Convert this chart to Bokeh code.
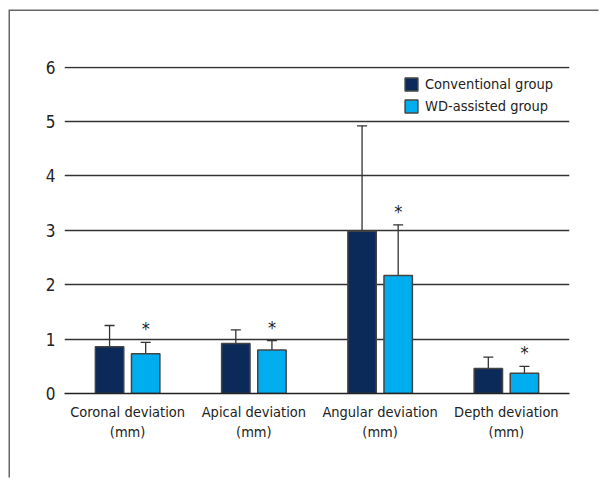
from bokeh.plotting import figure
from bokeh.models import (ColumnDataSource, FactorRange, Legend, LegendItem, CategoricalAxis,
                          Range1d, CustomJSTickFormatter)
from bokeh.transform import dodge
from bokeh.core.properties import value
from bokeh.embed import file_html
from bokeh.resources import INLINE

categories = ["Coronal deviation", "Apical deviation", "Angular deviation", "Depth deviation"]
unit_label = "(mm)"
conv_means = [0.86, 0.92, 2.98, 0.46]
conv_sd = [0.39, 0.25, 1.94, 0.21]
wd_means = [0.73, 0.80, 2.17, 0.37]
wd_sd = [0.21, 0.17, 0.93, 0.13]
series_names = ["Conventional group", "WD-assisted group"]
y_ticks = [0, 1, 2, 3, 4, 5, 6]

FONT = "'DejaVu Sans Condensed', Roboto"
TXT = "#222222"
conv_color = "#0b2a5a"
wd_color = "#00aeef"

src = ColumnDataSource(dict(
    cat=categories,
    conv=conv_means,
    conv_up=[m + s for m, s in zip(conv_means, conv_sd)],
    wd=wd_means,
    wd_up=[m + s for m, s in zip(wd_means, wd_sd)],
    star=["*"] * len(categories),
))

p = figure(x_range=FactorRange(*categories), y_range=Range1d(0, 6.01),
           width=590, height=468, output_backend="svg", toolbar_location=None,
           min_border_left=54, min_border_right=31, min_border_top=55, min_border_bottom=86,
           styles={"margin-left": "10px", "margin-top": "11px",
                   "box-shadow": "-1.5px -1.5px 0px 0px #666666"})
p.outline_line_color = None
p.background_fill_color = "white"
p.border_fill_color = "white"

off = 0.143
w = 0.225

# error bars (upward only)
p.segment(x0=dodge("cat", -off, range=p.x_range), y0="conv", x1=dodge("cat", -off, range=p.x_range), y1="conv_up",
          source=src, line_color="#333333", line_width=1.3)
p.segment(x0=dodge("cat", off, range=p.x_range), y0="wd", x1=dodge("cat", off, range=p.x_range), y1="wd_up",
          source=src, line_color="#333333", line_width=1.3)
p.rect(x=dodge("cat", -off, range=p.x_range), y="conv_up", width=10, height=1.3, width_units="screen",
       height_units="screen", source=src, fill_color="#333333", line_color=None)
p.rect(x=dodge("cat", off, range=p.x_range), y="wd_up", width=10, height=1.3, width_units="screen",
       height_units="screen", source=src, fill_color="#333333", line_color=None)

r1 = p.vbar(x=dodge("cat", -off, range=p.x_range), top="conv", width=w, source=src,
            fill_color=conv_color, line_color="#444444", line_width=1.5)
r2 = p.vbar(x=dodge("cat", off, range=p.x_range), top="wd", width=w, source=src,
            fill_color=wd_color, line_color="#444444", line_width=1.5)

p.text(x=dodge("cat", off, range=p.x_range), y="wd_up", text="star", source=src,
       text_font=value(FONT), text_font_size="18px", text_color=TXT,
       text_align="center", text_baseline="bottom", y_offset=-3)

# axes
p.yaxis.ticker = y_ticks
p.yaxis.axis_line_color = None
p.yaxis.major_tick_line_color = None
p.yaxis.minor_tick_line_color = None
p.yaxis.major_label_text_font = FONT
p.yaxis.major_label_text_font_size = "17px"
p.yaxis.major_label_text_color = TXT
p.yaxis.major_label_standoff = 3

p.xaxis.axis_line_color = "#222222"
p.xaxis.axis_line_width = 1.5
p.xaxis.major_tick_line_color = None
p.xaxis.minor_tick_line_color = None
p.xaxis.major_label_text_font = FONT
p.xaxis.major_label_text_font_size = "14.5px"
p.xaxis.major_label_text_color = TXT
p.xaxis.major_label_standoff = 4

unit_axis = CategoricalAxis(formatter=CustomJSTickFormatter(args=dict(u=unit_label), code="return u;"))
unit_axis.axis_line_color = None
unit_axis.major_tick_line_color = None
unit_axis.minor_tick_line_color = None
unit_axis.major_label_text_font = FONT
unit_axis.major_label_text_font_size = "14.5px"
unit_axis.major_label_text_color = TXT
unit_axis.major_label_standoff = -5
p.add_layout(unit_axis, "below")

p.xgrid.grid_line_color = None
p.ygrid.grid_line_color = "#333333"
p.ygrid.grid_line_width = 1.5

legend = Legend(items=[LegendItem(label=series_names[0], renderers=[r1]),
                       LegendItem(label=series_names[1], renderers=[r2])],
                location="top_right")
legend.border_line_color = None
legend.background_fill_alpha = 0
legend.label_text_font = FONT
legend.label_text_font_size = "14.5px"
legend.label_text_color = TXT
legend.label_width = 134
legend.glyph_width = 16
legend.glyph_height = 16
legend.label_standoff = 6
legend.spacing = 6
legend.padding = 0
legend.margin = 10
p.add_layout(legend)

open("out.html", "w").write(file_html(p, INLINE))
